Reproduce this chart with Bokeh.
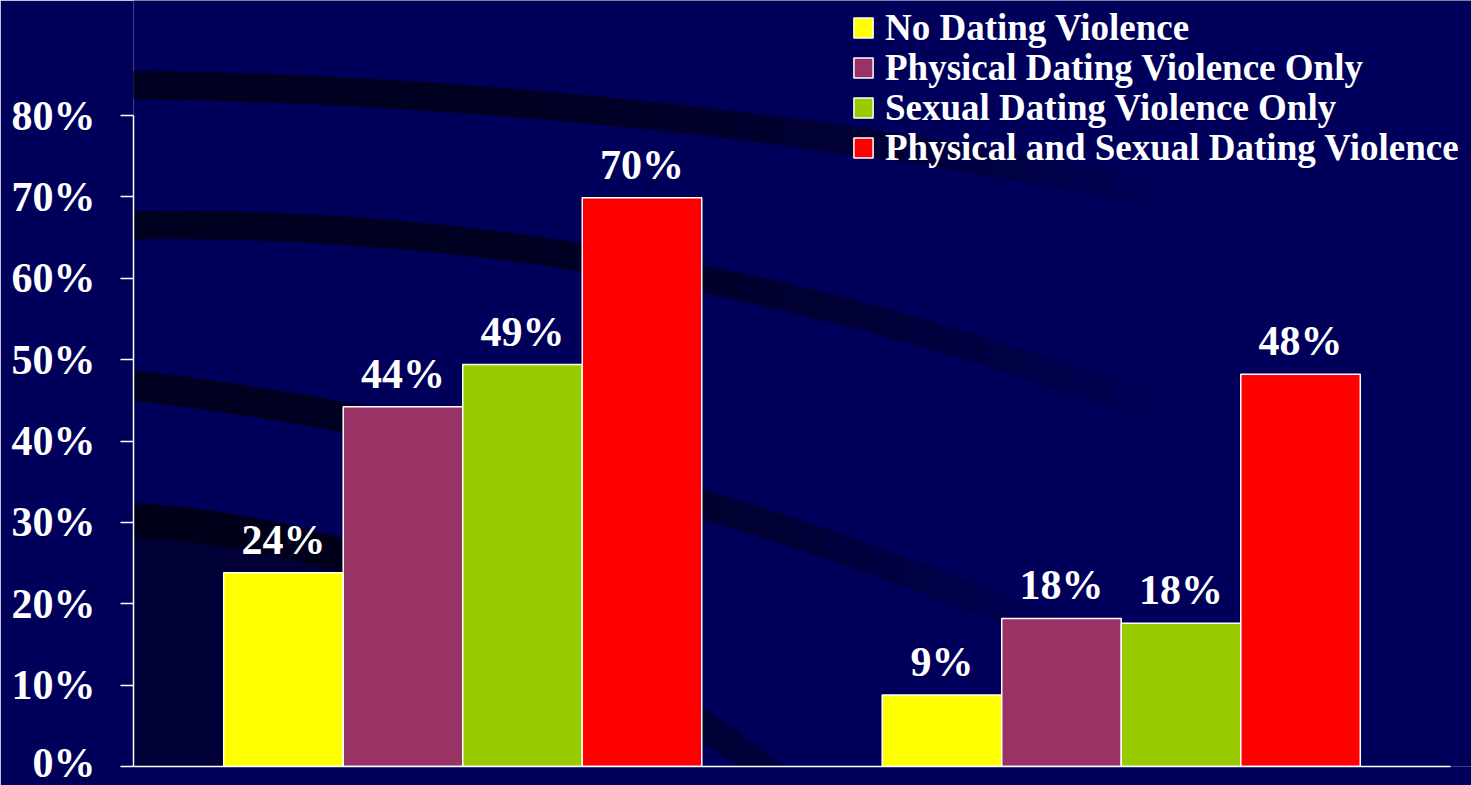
import numpy as np
from bokeh.plotting import figure
from bokeh.models import (ColumnDataSource, LabelSet, Legend, LegendItem, PolyAnnotation,
                          FixedTicker, PrintfTickFormatter)
from bokeh.transform import dodge
from bokeh.embed import file_html
from bokeh.resources import INLINE

# ---------------- data ----------------
series = ["No Dating Violence", "Physical Dating Violence Only",
          "Sexual Dating Violence Only", "Physical and Sexual Dating Violence"]
colors = ["#FFFF00", "#993366", "#99CC00", "#FF0000"]
group_index = [0, 1]
values_group1 = [23.8, 44.2, 49.4, 69.9]
values_group2 = [8.8, 18.2, 17.6, 48.2]
labels_group1 = ["24%", "44%", "49%", "70%"]
labels_group2 = ["9%", "18%", "18%", "48%"]
y_ticks = [0, 10, 20, 30, 40, 50, 60, 70, 80]
y_max = 80

# ---------------- layout (pixels) ----------------
W, H = 1471, 785
LEFT, BOTTOM = 133, 19            # axis positions
AXIS_TOP_PX = 115                 # where 80% sits
GROUP_PX = 658.5                  # width of one category
frame_h = H - BOTTOM
frame_w = W - LEFT
y_top = y_max * frame_h / (frame_h - AXIS_TOP_PX)
x_lo = -0.5
x_hi = x_lo + frame_w / GROUP_PX

BG = "#00005A"
FONT = "Liberation Serif"
p = figure(width=W, height=H, x_range=(x_lo, x_hi), y_range=(0, y_top),
           output_backend="svg", toolbar_location=None,
           min_border_left=LEFT, min_border_right=0, min_border_top=0, min_border_bottom=BOTTOM)
p.background_fill_color = BG
p.border_fill_color = BG
p.outline_line_alpha = 0
p.grid.visible = False

# ---------- decorative dark swooshes of the slide background ----------
def px_to_data(X, Y):
    X = np.asarray(X, float); Y = np.asarray(Y, float)
    return x_lo + (X - LEFT) / GROUP_PX, (frame_h - Y) * y_max / (frame_h - AXIS_TOP_PX)

def band_layers(px, py, thick, fade_start, fade_end, alpha, steps=18):
    coef = np.polyfit(px, py, 2)
    ends = np.linspace(fade_start, fade_end, steps)
    a = 1 - (1 - alpha) ** (1.0 / steps)
    for xe in ends:
        xx = np.linspace(0, xe, 90)
        yy = np.polyval(coef, xx)
        X = np.concatenate([xx, xx[::-1]])
        Y = np.concatenate([yy - thick / 2, (yy + thick / 2)[::-1]])
        dx, dy = px_to_data(X, Y)
        p.add_layout(PolyAnnotation(xs=list(dx), ys=list(dy), fill_color="#000014",
                                    fill_alpha=a, line_alpha=0, level="underlay"))

band_layers([0, 600, 800, 1000], [84, 113, 129, 165], 28, 450, 1150, 0.8)
band_layers([0, 800, 946, 1050], [230, 300, 340, 372], 28, 450, 1150, 0.8)
band_layers([0, 330, 700, 848], [373, 413, 505, 550], 30, 420, 1050, 0.8)
band_layers([0, 330, 600, 790], [520, 557, 655, 790], 34, 450, 900, 0.75)
# darker lower-left area under the last swoosh
xx = np.linspace(0, 560, 60)
yy = np.polyval(np.polyfit([0, 330, 600, 790], [520, 557, 655, 790], 2), xx) + 17
Xd = np.concatenate([xx, [560, 0]]); Yd = np.concatenate([yy, [800, 800]])
dx, dy = px_to_data(Xd, Yd)
p.add_layout(PolyAnnotation(xs=list(dx), ys=list(dy), fill_color="#000014", fill_alpha=0.5,
                            line_alpha=0, level="underlay"))

# ---------------- bars ----------------
bar_w = 0.1815
renderers = []
for i, name in enumerate(series):
    src = ColumnDataSource(dict(
        x=group_index,
        y=[values_group1[i], values_group2[i]],
        lab=[labels_group1[i], labels_group2[i]],
    ))
    off = (i - 1.5) * bar_w
    r = p.vbar(x=dodge("x", off, range=p.x_range), top="y", width=bar_w, source=src,
               fill_color=colors[i], line_color="white", line_width=1.5)
    renderers.append(r)
    p.add_layout(LabelSet(x=dodge("x", off, range=p.x_range), y="y", text="lab", source=src,
                          text_align="center", text_baseline="alphabetic", y_offset=19,
                          text_color="white", text_font=FONT, text_font_style="bold",
                          text_font_size="42px"))

# ---------------- axes ----------------
p.yaxis.bounds = (0, y_max)
p.yaxis.ticker = FixedTicker(ticks=y_ticks)
p.yaxis.formatter = PrintfTickFormatter(format="%d%%")
p.yaxis.axis_line_color = "white"
p.yaxis.axis_line_width = 1.5
p.yaxis.major_tick_line_color = "white"
p.yaxis.major_tick_line_width = 1.5
p.yaxis.major_tick_out = 13
p.yaxis.major_tick_in = 0
p.yaxis.minor_tick_line_alpha = 0
p.yaxis.major_label_standoff = 25
p.yaxis.major_label_text_color = "white"
p.yaxis.major_label_text_font = FONT
p.yaxis.major_label_text_font_style = "bold"
p.yaxis.major_label_text_font_size = "42px"

p.xaxis.bounds = (x_lo, 1.5)
p.xaxis.ticker = FixedTicker(ticks=[])
p.xaxis.axis_line_color = "white"
p.xaxis.axis_line_width = 1.5
p.xaxis.major_tick_out = 0
p.xaxis.minor_tick_line_alpha = 0
p.xaxis.major_label_standoff = 0

# ---------------- legend (one row per entry, 40px row pitch) ----------------
ROW_PITCH = 40
for i, (name, r) in enumerate(zip(series, renderers)):
    lg = Legend(items=[LegendItem(label=name, renderers=[r])],
                location=(718, 597 + ROW_PITCH * (len(series) - 1 - i)),
                label_text_color="white", label_text_font=FONT, label_text_font_style="bold",
                label_text_font_size="37px", glyph_width=24, glyph_height=25, label_height=40,
                label_standoff=10, padding=0, margin=0, spacing=0,
                border_line_alpha=0, background_fill_alpha=0)
    p.add_layout(lg, "center")

open("out.html", "w").write(file_html(p, INLINE))
